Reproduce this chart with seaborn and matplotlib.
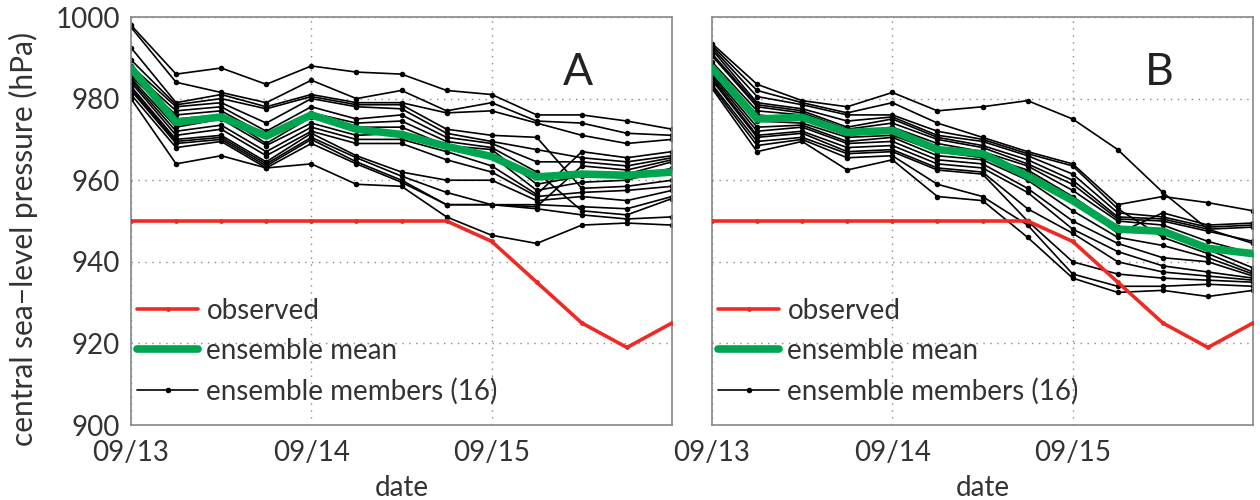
import numpy as np
import pandas as pd
import matplotlib
matplotlib.use("Agg")
import matplotlib.pyplot as plt
from matplotlib.lines import Line2D
import seaborn as sns

# ---------------- data ----------------
hours = [0, 6, 12, 18, 24, 30, 36, 42, 48, 54, 60, 66, 72]   # hours after 09/13 00Z
tick_hours = [0, 24, 48]
tick_labels = ["09/13", "09/14", "09/15"]
y_ticks = [900, 920, 940, 960, 980, 1000]

observed = [950, 950, 950, 950, 950, 950, 950, 950, 945, 935, 925, 919, 925]

mean_A = [987.5, 974.2, 975.5, 970.8, 976.0, 972.5, 971.2, 968.3, 965.8, 960.8, 961.5, 961.2, 962.0]
mean_B = [987.5, 975.0, 975.4, 971.7, 972.2, 967.5, 966.5, 961.0, 955.0, 948.0, 947.5, 943.3, 942.0]

members_A = [
    [998.0, 986.0, 987.5, 983.5, 988.0, 986.5, 986.0, 982.0, 981.0, 976.0, 976.0, 974.5, 972.5],
    [997.5, 984.0, 981.5, 979.0, 984.5, 980.0, 982.0, 977.0, 979.0, 974.5, 974.0, 971.5, 971.0],
    [992.5, 979.0, 981.0, 978.0, 981.0, 979.0, 979.0, 976.5, 977.0, 974.0, 971.0, 969.0, 970.0],
    [989.5, 978.5, 980.0, 977.5, 980.5, 978.5, 978.5, 972.5, 971.0, 970.5, 958.0, 958.5, 960.0],
    [988.0, 978.0, 979.0, 974.0, 980.0, 978.0, 977.5, 971.5, 969.5, 967.5, 965.5, 964.5, 966.0],
    [987.0, 977.0, 978.0, 972.0, 978.0, 975.0, 976.0, 970.5, 969.0, 964.5, 964.5, 963.5, 965.5],
    [986.0, 976.0, 977.0, 971.0, 976.5, 974.0, 974.5, 969.5, 968.0, 962.0, 952.5, 951.5, 955.5],
    [985.5, 975.0, 976.0, 969.0, 975.5, 973.0, 973.0, 968.5, 967.5, 959.0, 961.0, 961.5, 964.5],
    [985.0, 973.0, 975.0, 968.5, 974.0, 971.0, 971.5, 968.0, 966.0, 957.5, 959.5, 960.0, 963.0],
    [984.5, 972.0, 973.5, 967.0, 973.0, 970.0, 970.0, 967.0, 963.5, 956.5, 967.0, 965.5, 967.0],
    [984.0, 971.0, 972.5, 966.0, 972.0, 969.0, 969.0, 965.0, 962.0, 956.0, 957.0, 957.5, 958.5],
    [983.0, 970.0, 971.0, 964.5, 971.5, 966.0, 962.0, 960.0, 960.0, 955.0, 956.0, 955.0, 957.5],
    [982.5, 969.5, 970.5, 964.0, 970.5, 965.5, 961.0, 957.0, 954.0, 954.0, 953.5, 953.0, 956.0],
    [982.0, 969.0, 970.0, 963.5, 970.0, 964.5, 960.0, 954.0, 954.0, 953.5, 963.5, 962.5, 965.0],
    [981.0, 968.0, 969.5, 963.0, 969.0, 964.0, 959.5, 954.0, 954.0, 953.0, 951.5, 950.5, 951.0],
    [980.0, 964.0, 966.0, 963.0, 964.0, 959.0, 958.5, 951.0, 946.5, 944.5, 949.0, 949.5, 949.0],
]

members_B = [
    [993.5, 983.5, 979.5, 978.0, 981.5, 977.0, 978.0, 979.5, 975.0, 967.5, 957.0, 948.0, 944.5],
    [993.0, 982.0, 979.0, 976.5, 979.0, 974.0, 970.5, 967.0, 964.0, 954.0, 956.0, 954.5, 952.5],
    [992.5, 980.5, 978.5, 976.0, 976.0, 972.0, 970.0, 966.5, 963.5, 953.0, 946.0, 942.0, 937.5],
    [992.0, 979.0, 977.5, 974.5, 975.5, 971.0, 969.5, 966.0, 961.5, 952.0, 951.0, 948.5, 949.0],
    [991.0, 978.5, 977.0, 973.0, 975.0, 970.5, 968.5, 965.0, 960.0, 951.0, 950.5, 948.0, 948.5],
    [990.5, 978.0, 976.5, 972.5, 974.0, 970.0, 968.0, 964.0, 959.0, 950.5, 950.0, 947.5, 945.0],
    [989.0, 977.0, 976.0, 971.5, 973.0, 969.0, 967.0, 963.5, 957.5, 950.0, 949.0, 945.0, 942.0],
    [988.0, 976.0, 975.0, 971.0, 972.0, 968.0, 966.0, 962.5, 956.0, 948.5, 947.5, 943.0, 938.5],
    [987.0, 974.5, 974.0, 970.5, 971.0, 967.0, 965.5, 962.0, 955.0, 947.0, 952.0, 949.0, 949.5],
    [986.0, 973.0, 973.5, 969.5, 970.5, 966.0, 965.0, 960.0, 952.5, 946.0, 944.0, 941.0, 937.0],
    [985.5, 972.0, 973.0, 969.0, 969.5, 965.0, 964.0, 958.0, 950.0, 944.5, 941.0, 940.0, 936.5],
    [985.0, 971.0, 972.0, 968.0, 968.5, 964.0, 963.0, 957.0, 948.0, 942.5, 939.0, 937.5, 936.0],
    [984.5, 970.5, 971.5, 967.0, 967.5, 963.0, 962.0, 953.0, 947.0, 940.0, 937.5, 936.5, 935.5],
    [983.5, 969.5, 970.5, 966.5, 967.0, 962.5, 961.5, 950.0, 940.0, 937.0, 936.0, 935.5, 935.0],
    [983.0, 968.5, 970.0, 965.5, 966.0, 959.0, 956.0, 949.0, 937.0, 934.0, 934.0, 934.5, 934.0],
    [982.5, 967.0, 969.5, 962.5, 965.0, 956.0, 955.0, 946.0, 936.0, 932.5, 933.0, 931.5, 933.0],
]

panel_labels = ["A", "B"]
legend_labels = ["observed", "ensemble mean", "ensemble members (16)"]

# ---------------- style ----------------
sns.set_theme(style="white")
plt.rcParams["font.family"] = ["Lato", "DejaVu Sans"]
TXT = "#333333"
RED = "#ee2a24"
GREEN = "#00a550"
FS = 20


def members_frame(members):
    rows = []
    for m, vals in enumerate(members):
        for h, v in zip(hours, vals):
            rows.append({"member": m, "hour": h, "p": v})
    return pd.DataFrame(rows)


fig = plt.figure(figsize=(12.6, 5.0), dpi=100)
axA = fig.add_axes([131 / 1260, 75 / 500, 541 / 1260, 408 / 500])
axB = fig.add_axes([712 / 1260, 75 / 500, 541 / 1260, 408 / 500])

for ax, members, mean, lab in [(axA, members_A, mean_A, panel_labels[0]),
                               (axB, members_B, mean_B, panel_labels[1])]:
    df = members_frame(members)
    sns.lineplot(data=df, x="hour", y="p", units="member", estimator=None,
                 color="black", lw=1.2, marker="o", markersize=4,
                 markeredgewidth=0, legend=False, ax=ax, zorder=2)
    sns.lineplot(x=hours, y=observed, color=RED, lw=2.6, marker="o",
                 markersize=3.5, markeredgewidth=0, ax=ax, zorder=3, legend=False)
    sns.lineplot(x=hours, y=mean, color=GREEN, lw=5.5, ax=ax, zorder=4, legend=False)

    ax.set_xlim(0, 72)
    ax.set_ylim(900, 1000)
    ax.set_xticks(tick_hours)
    ax.set_xticklabels(tick_labels)
    ax.set_yticks(y_ticks)
    ax.grid(True, linestyle=(0, (1, 4)), color="#888888", lw=1.0)
    ax.tick_params(direction="in", length=5, width=1, colors="#777777",
                   labelcolor=TXT, labelsize=FS)
    ax.tick_params(axis="x", pad=11)
    ax.tick_params(axis="y", pad=8)
    for s in ax.spines.values():
        s.set_color("#888888")
        s.set_linewidth(1.2)
    ax.set_xlabel("date", fontsize=FS, color=TXT, labelpad=6)
    ax.text(0.826, 0.865, lab, transform=ax.transAxes, fontsize=32,
            ha="center", va="center", color="#222222")

    handles = [
        Line2D([], [], color=RED, lw=2.6, marker="o", markersize=3.5, markeredgewidth=0),
        Line2D([], [], color=GREEN, lw=5.5),
        Line2D([], [], color="black", lw=1.2, marker="o", markersize=4, markeredgewidth=0),
    ]
    leg = ax.legend(handles, legend_labels, loc="lower left", frameon=False,
                    fontsize=FS, handlelength=2.2, handletextpad=0.3,
                    labelspacing=0.5, borderaxespad=0.0, borderpad=0.0,
                    bbox_to_anchor=(6 / 541, 0.05))
    for t in leg.get_texts():
        t.set_color(TXT)

axA.set_ylabel("central sea\u2212level pressure (hPa)", fontsize=21.5, color=TXT)
axA.yaxis.set_label_coords(-0.172, 0.455)
axB.set_ylabel("")
axB.set_yticklabels([])

fig.savefig("out.png", dpi=100)
